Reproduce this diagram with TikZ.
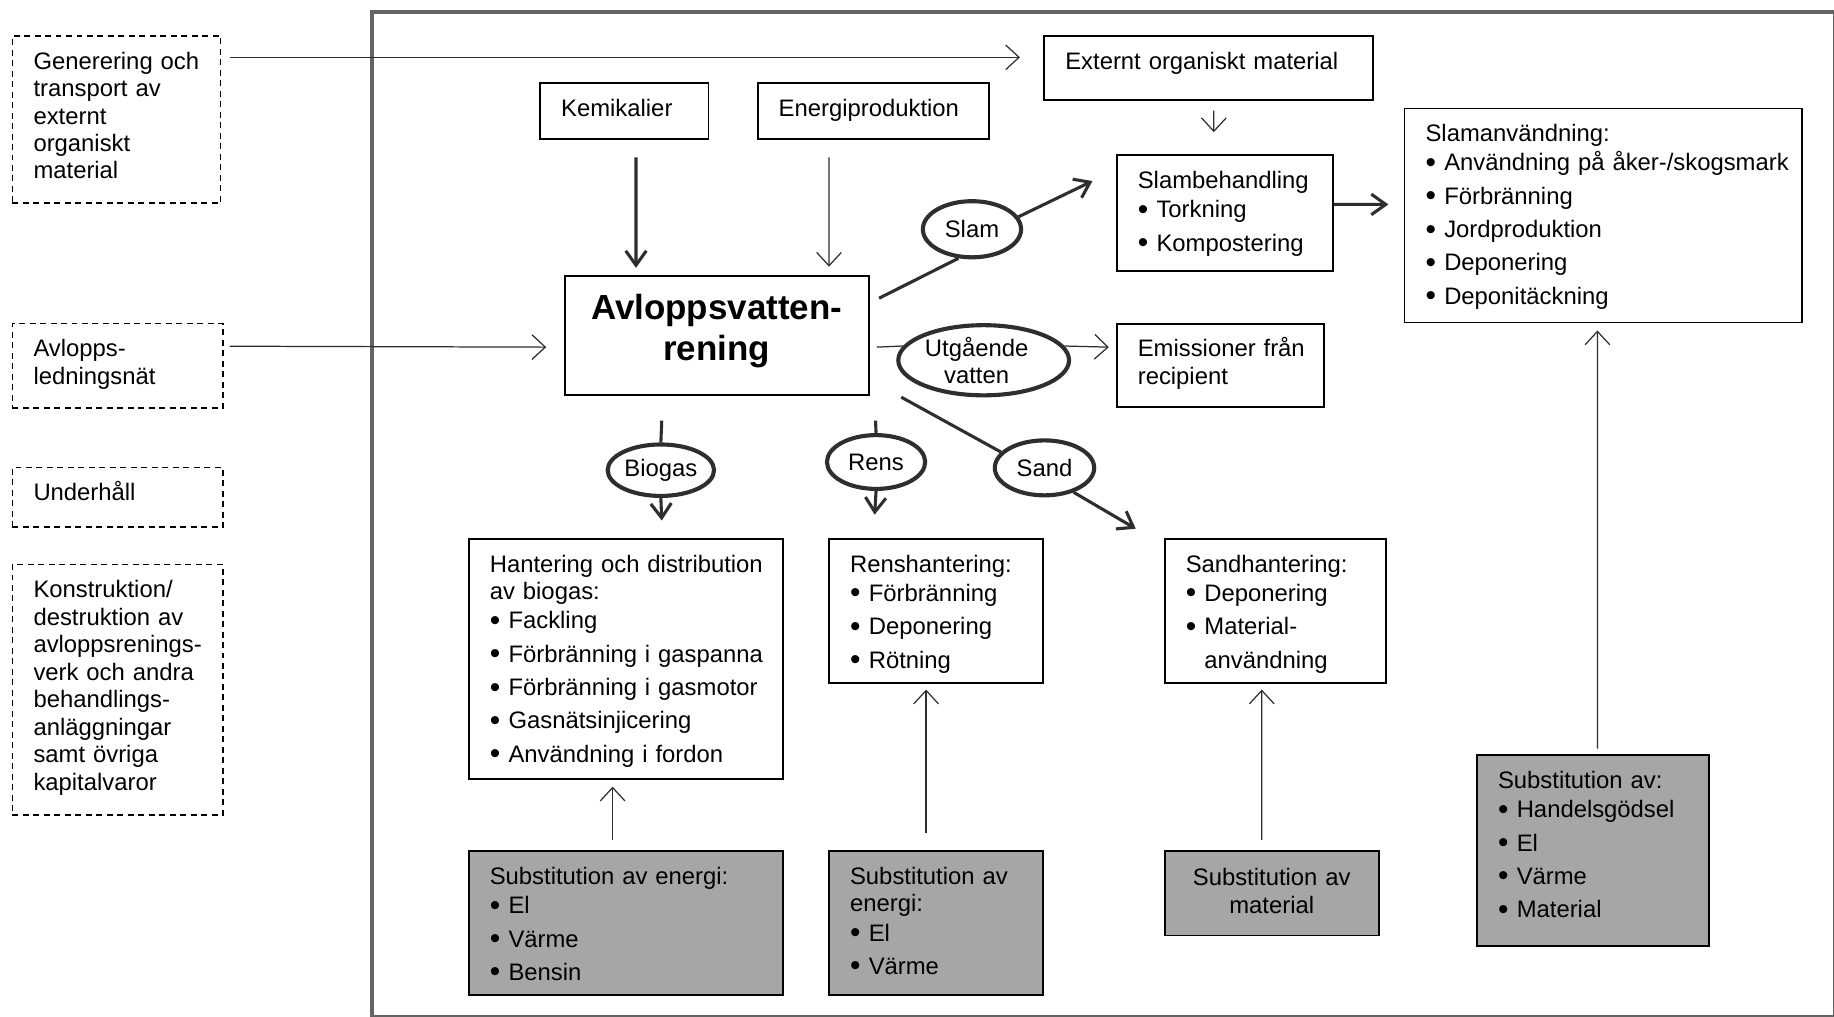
\documentclass[tikz,border=0pt]{standalone}
\usepackage{fontspec}
\setmainfont{Liberation Sans}
\usetikzlibrary{shapes.geometric,arrows.meta,calc}
\definecolor{lc}{HTML}{2E2E2E}
\definecolor{framec}{HTML}{646464}
\definecolor{subfill}{HTML}{A6A6A6}
\newcommand\fs{\fontsize{11.6}{13.37}\selectfont}
\newcommand\bul{\makebox[9.1pt][l]{\raisebox{-0.7pt}{\fontsize{14.5}{14.5}\selectfont •}}}
\newcommand\hb{\\[0.86pt]\bul}
\newcommand\nb{\\[2.85pt]\bul}
\newcommand\ind{\leftskip=0.36cm\relax}
\begin{document}
\begin{tikzpicture}[x=0.02cm,y=-0.02cm,
  bx/.style={draw=black, line width=0.9pt, anchor=north west, inner sep=0pt, align=left, font=\fs, text height=0.568cm},
  dbx/.style={bx, dash pattern=on 2.9pt off 2.2pt, line width=0.75pt},
  gbx/.style={bx, fill=subfill},
  ell/.style={ellipse, draw=lc, line width=2pt, inner sep=0pt},
  ln/.style={draw=lc, line width=0.6pt},
  tar/.style={ln, -{Straight Barb[length=6.5pt,width=12pt]}},
  thk/.style={draw=lc, line width=1.5pt},
  kar/.style={thk, -{Straight Barb[length=7pt,width=10pt]}},
]
\path[fill=white] (0,0) rectangle (1568,869);
\clip (0,0) rectangle (1568,869);
\draw[framec, line width=1.8pt] (318,10) rectangle (1568.5,869.5);

% left dashed boxes
\node[dbx, text width=3.56cm, text depth=2.292cm] (gen) at (10,30) {\ind Generering och\\transport av\\externt\\organiskt\\material\par};
\node[dbx, text width=3.6cm, text depth=0.872cm] (avlnet) at (10,276) {\ind Avlopps-\\ledningsnät\par};
\node[dbx, text width=3.6cm, text depth=0.452cm] (under) at (10,399) {\ind Underhåll\par};
\node[dbx, text width=3.6cm, text depth=3.712cm] (konst) at (10,482) {\ind Konstruktion/\\destruktion av\\avloppsrenings-\\verk och andra\\behandlings-\\anläggningar\\samt övriga\\kapitalvaror\par};

% inner boxes
\node[bx, text width=5.62cm, text depth=0.532cm] (ext) at (892,30) {\ind Externt organiskt material\par};
\node[bx, text width=2.88cm, text depth=0.392cm] (kem) at (461,70) {\ind Kemikalier\par};
\node[bx, text width=3.96cm, text depth=0.392cm] (energ) at (647,70) {\ind Energiproduktion\par};
\node[bx, align=center, text width=5.2cm, text height=0.754cm, text depth=1.286cm, font=\fontsize{17}{19.9}\selectfont\bfseries] (avl) at (482,235) {Avloppsvatten-\\rening};
\node[bx, text width=3.7cm, text depth=1.412cm] (slamb) at (954,132) {\ind Slambehandling\hb Torkning\nb Kompostering\par};
\node[bx, text width=6.8cm, text depth=3.092cm] (slamanv) at (1200,92) {\ind Slamanvändning:\hb Användning på åker-/skogsmark\nb Förbränning\nb Jordproduktion\nb Deponering\nb Deponitäckning\par};
\node[bx, text width=3.54cm, text depth=0.852cm] (emis) at (954,276) {\ind Emissioner från\\recipient\par};
\node[bx, text width=5.38cm, text depth=3.532cm] (hant) at (400,460) {\ind Hantering och distribution\\av biogas:\hb Fackling\nb Förbränning i gaspanna\nb Förbränning i gasmotor\nb Gasnätsinjicering\nb Användning i fordon\par};
\node[bx, text width=3.66cm, text depth=1.892cm] (rensh) at (708,460) {\ind Renshantering:\hb Förbränning\nb Deponering\nb Rötning\par};
\node[bx, text width=3.78cm, text depth=1.892cm] (sandh) at (995,460) {\ind Sandhantering:\hb Deponering\nb Material-\\[2.85pt]\hspace*{9.1pt}användning\par};

% substitution boxes
\node[gbx, text width=5.38cm, text depth=1.892cm] (sube) at (400,727) {\ind Substitution av energi:\hb El\nb Värme\nb Bensin\par};
\node[gbx, text width=3.66cm, text depth=1.892cm] (subr) at (708,727) {\ind Substitution av\\energi:\hb El\nb Värme\par};
\node[gbx, align=center, text width=3.66cm, text height=0.588cm, text depth=0.852cm] (subm) at (995,727) {Substitution av\\material};
\node[gbx, text width=3.96cm, text depth=2.692cm] (subav) at (1262,645) {\ind Substitution av:\hb Handelsgödsel\nb El\nb Värme\nb Material\par};

% ellipses
\node[ell, minimum width=1.68cm, minimum height=0.96cm, label={[font=\fs]center:Slam}] (slam) at (831,196) {};
\node[ell, minimum width=2.92cm, minimum height=1.2cm, label={[font=\fs, align=center, xshift=-0.12cm]center:{Utgående\\vatten}}] (utg) at (841,308) {};
\node[ell, minimum width=1.82cm, minimum height=0.88cm, label={[font=\fs]center:Biogas}] (biog) at (565,402) {};
\node[ell, minimum width=1.68cm, minimum height=0.92cm, label={[font=\fs]center:Rens}] (rens) at (749,395) {};
\node[ell, minimum width=1.70cm, minimum height=0.94cm, label={[font=\fs]center:Sand}] (sand) at (893,400) {};

% connectors
\draw[tar] ($(gen.north east)+(7,19)$) -- ($(ext.north west)+(-20,19)$);
\draw[tar] ($(avlnet.north east)+(5,20)$) -- ($(avl.west)+(-15,10)$);
\draw[kar] ($(kem.south)+(10,15)$) -- ($(avl.north)+(-69,-6)$);
\draw[tar] ($(energ.south)+(-38,15)$) -- ($(avl.north)+(96,-7)$);
\draw[tar] ($(ext.south)+(4.5,8)$) -- ($(slamb.north)+(-9.5,-19)$);
\draw[kar] ($(slamb.east)+(0,-7.5)$) -- ($(slamanv.west)+(-13,-9.5)$);
\draw[thk] ($(avl.north east)+(8,20)$) -- (slam.245);
\draw[kar] (slam.15) -- ($(slamb.west)+(-20,-27.5)$);
\draw[ln] ($(avl.east)+(6,10)$) -- (utg.170);
\draw[tar] (utg.10) -- ($(emis.west)+(-6,-15.5)$);
\draw[thk] ($(avl.south)+(-47,21)$) -- (biog.north);
\draw[kar] (biog.south) -- ($(hant.north)+(30.5,-15)$);
\draw[thk] ($(avl.south east)+(5,21)$) -- (rens.north);
\draw[kar] (rens.south) -- ($(rensh.north)+(-52.5,-20)$);
\draw[thk] ($(avl.south east)+(27,1)$) -- (sand.160);
\draw[kar] (sand.320) -- ($(sandh.north west)+(-24,-8)$);
\draw[tar] ($(subav.north)+(4,-5)$) -- ($(slamanv.south)+(-5,6)$);
\draw[tar] ($(sube.north)+(-11.5,-9)$) -- ($(hant.south)+(-11.5,6)$);
\draw[tar] ($(subr.north)+(-8.5,-15)$) -- ($(rensh.south)+(-8.5,5)$);
\draw[tar] ($(subm.north)+(-8.5,-9)$) -- ($(sandh.south)+(-11.5,5)$);
\end{tikzpicture}
\end{document}
